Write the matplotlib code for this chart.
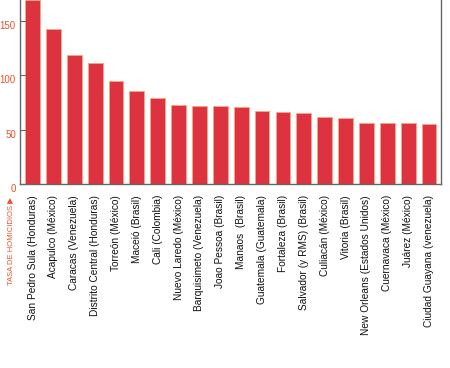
import matplotlib
matplotlib.use("Agg")
import matplotlib.pyplot as plt
import matplotlib.transforms as mtransforms

cities = [
    "San Pedro Sula (Honduras)", "Acapulco (México)", "Caracas (Venezuela)",
    "Distrito Central (Honduras)", "Torreón (México)", "Maceió (Brasil)",
    "Cali (Colombia)", "Nuevo Laredo (México)", "Barquisimeto (Venezuela)",
    "Joao Pessoa (Brasil)", "Manaos  (Brasil)", "Guatemala (Guatemala)",
    "Fortaleza (Brasil)", "Salvador (y RMS) (Brasil)", "Culiacán (México)",
    "Vitoria (Brasil)", "New Orleans (Estados Unidos)", "Cuernavaca (México)",
    "Juárez (México)", "Ciudad Guayana (venezuela)",
]
rates = [169.3, 142.9, 118.9, 111.0, 94.7, 86.0, 79.3, 73.0, 71.8, 71.6,
         70.4, 67.4, 66.4, 65.6, 62.1, 60.3, 56.2, 56.2, 55.8, 55.0]
yticks = [0, 50, 100, 150]
ylabel = "TASA DE HOMICIDIOS ▶"

fig = plt.figure(figsize=(4.5, 3.68), dpi=100)
ax = fig.add_axes([20/450, 184/368, 421/450, 184/368])

x = list(range(len(cities)))
ax.bar(x, rates, width=0.71, color="#dd3340", edgecolor="#f7a882", linewidth=0.6)

ax.set_xlim(-0.6, len(cities) - 1 + 0.575)
ax.set_ylim(0, 169.3)

for s in ["top", "right"]:
    ax.spines[s].set_visible(False)
for s in ["left", "bottom"]:
    ax.spines[s].set_color("#666666")
    ax.spines[s].set_linewidth(1.0)

ax.set_yticks(yticks)
ax.set_yticklabels([str(v) for v in yticks], color="#f0502a", fontsize=7, family="Liberation Sans")
ax.tick_params(axis="y", direction="in", length=4, color="#666666", pad=3)
offset = mtransforms.ScaledTranslation(0, -4/100, fig.dpi_scale_trans)
for lab in ax.get_yticklabels():
    lab.set_transform(lab.get_transform() + offset)

ax.set_xticks(x)
ax.set_xticklabels(cities, rotation=90, fontsize=7.3, family="Liberation Sans", color="#111111")
ax.tick_params(axis="x", length=0, pad=8)

# small end tick at right of baseline
ax.plot([1, 1], [0, 3], transform=ax.transAxes, color="#666666", lw=1, clip_on=False)

fig.text(11.5/450, 1 - 241/368, ylabel, rotation=90, color="#f0502a",
         fontsize=5.5, family=["Liberation Sans", "DejaVu Sans"], ha="center", va="center")

fig.savefig("out.png", dpi=100)
